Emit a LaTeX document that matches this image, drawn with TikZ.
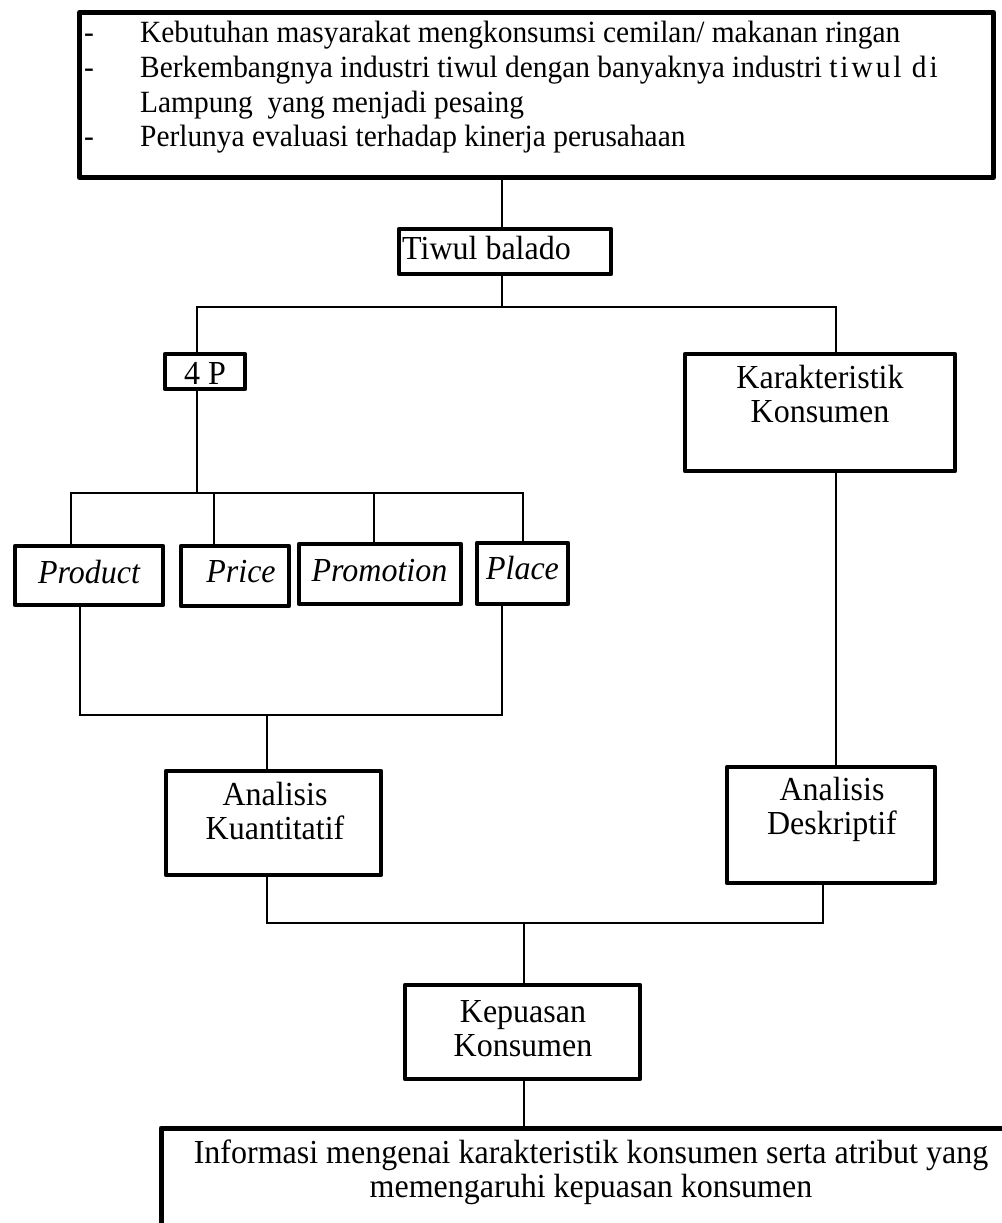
\documentclass[tikz,border=0pt]{standalone}
\usepackage{fontspec}
\usepackage{graphicx}
\setmainfont{Liberation Serif}
\newcommand{\twolines}[2]{\scalebox{1}[1.05]{\begin{tabular}[t]{@{}c@{}}#1\\#2\end{tabular}}}
\newcommand{\tallish}[1]{\scalebox{1}[1.05]{#1}}
\begin{document}
\begin{tikzpicture}[x=1pt,y=-1pt,
  box/.style={draw, line width=4.5pt, inner sep=0pt, rectangle, line join=round},
  conn/.style={line width=1.6pt},
  lbl/.style={anchor=base, inner sep=0pt, font=\fontsize{32}{32.5}\selectfont}]
\useasboundingbox (0,0) rectangle (1001,1223);
% boxes
\node[box, line width=5pt, minimum width=914pt, minimum height=165pt] (top) at (536.5,95) {};
\node[box, minimum width=212pt, minimum height=45pt] (tiwul) at (505,251.5) {};
\node[box, minimum width=80pt, minimum height=35pt] (p4) at (205,371.5) {};
\node[box, minimum width=270pt, minimum height=117pt] (kar) at (820,412.5) {};
\node[box, minimum width=148pt, minimum height=59pt] (prod) at (89,575.5) {};
\node[box, minimum width=108pt, minimum height=60pt] (price) at (235,576) {};
\node[box, minimum width=162pt, minimum height=60pt] (promo) at (380,574) {};
\node[box, minimum width=91pt, minimum height=61pt] (place) at (522.5,573.5) {};
\node[box, minimum width=215pt, minimum height=104pt] (kuan) at (273.5,823) {};
\node[box, minimum width=208pt, minimum height=116pt] (desk) at (831,825) {};
\node[box, minimum width=235pt, minimum height=94pt] (kep) at (522.5,1032) {};
\node[box, line width=5pt, minimum width=859pt, minimum height=132pt] (info) at (590.5,1194) {};
% texts
\node[anchor=base west, inner sep=0pt, font=\fontsize{29.4}{33}\selectfont] (toptext) at (84,43)
  {\tallish{\begin{tabular}[t]{@{}p{56pt}@{}l@{}}
  -&Kebutuhan masyarakat mengkonsumsi cemilan/ makanan ringan\\
  -&Berkembangnya industri tiwul dengan banyaknya industri {\addfontfeature{LetterSpace=10}tiwul di}\\
   &Lampung~ yang menjadi pesaing\\
  -&Perlunya evaluasi terhadap kinerja perusahaan
  \end{tabular}}};
\node[lbl, anchor=base west] (ttiwul) at (402,259) {\tallish{Tiwul balado}};
\node[lbl] (tp4) at (205,384) {\tallish{4 P}};
\node[lbl] (tkar) at (820,388) {\twolines{Karakteristik}{Konsumen}};
\node[lbl] (tprod) at (89,583) {\tallish{\itshape Product}};
\node[lbl] (tprice) at (241,582) {\tallish{\itshape Price}};
\node[lbl] (tpromo) at (379.5,581) {\tallish{\itshape Promotion}};
\node[lbl] (tplace) at (522.5,579) {\tallish{\itshape Place}};
\node[lbl] (tkuan) at (275,805) {\twolines{Analisis}{Kuantitatif}};
\node[lbl] (tdesk) at (832,800) {\twolines{Analisis}{Deskriptif}};
\node[lbl] (tkep) at (523,1022) {\twolines{Kepuasan}{Konsumen}};
\node[lbl] (tinfo) at (591,1163) {\twolines{Informasi mengenai karakteristik konsumen serta atribut yang}{memengaruhi kepuasan konsumen}};
% junctions
\coordinate (ja) at (502,307);
\coordinate (jl) at (197,307);
\coordinate (jr) at (836,307);
\coordinate (jb) at (197,493);
\coordinate (jbl) at (71,493);
\coordinate (jbr) at (523,493);
\coordinate (jpr) at (214,493);
\coordinate (jpm) at (374,493);
\coordinate (kl) at (80,715);
\coordinate (kr) at (502,715);
\coordinate (km) at (267,715);
\coordinate (ml) at (267,923);
\coordinate (mr) at (823,923);
\coordinate (mm) at (524,923);
% connectors
\draw[conn] (ja |- top.south) -- (ja |- tiwul.north);
\draw[conn] (ja |- tiwul.south) -- (ja);
\draw[conn] (jl |- p4.north) -- (jl) -- (jr) -- (jr |- kar.north);
\draw[conn] (jb |- p4.south) -- (jb);
\draw[conn] (jbl |- prod.north) -- (jbl) -- (jbr) -- (jbr |- place.north);
\draw[conn] (jpr) -- (jpr |- price.north);
\draw[conn] (jpm) -- (jpm |- promo.north);
\draw[conn] (kl |- prod.south) -- (kl) -- (kr) -- (kr |- place.south);
\draw[conn] (km) -- (km |- kuan.north);
\draw[conn] (jr |- kar.south) -- (jr |- desk.north);
\draw[conn] (ml |- kuan.south) -- (ml) -- (mr) -- (mr |- desk.south);
\draw[conn] (mm) -- (mm |- kep.north);
\draw[conn] (mm |- kep.south) -- (mm |- info.north);
\end{tikzpicture}
\end{document}
